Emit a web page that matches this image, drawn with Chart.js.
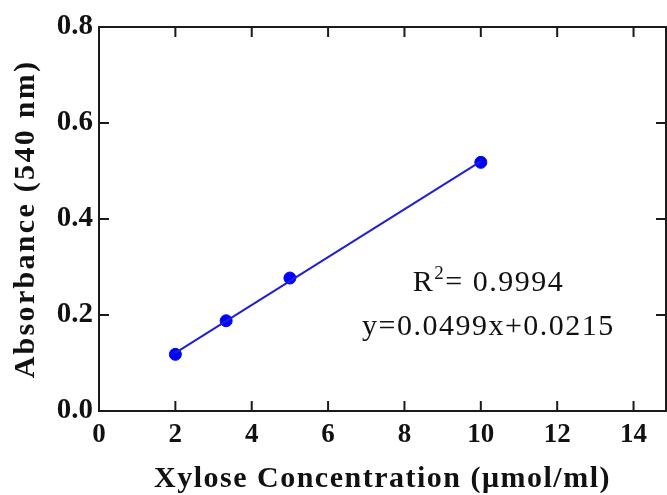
<!DOCTYPE html>
<html>
<head>
<meta charset="utf-8">
<script src="https://cdn.jsdelivr.net/npm/chart.js@4.4.1/dist/chart.umd.min.js"></script>
<style>
  html, body { margin: 0; padding: 0; background: #fff; overflow: hidden; }
  #wrap { width: 667px; height: 495px; }
</style>
</head>
<body>
<div id="wrap"><canvas id="chart" width="667" height="495"></canvas></div>
<script>
// Data
const concentration = [2, 3.33, 5, 10];
const absorbance = [0.118, 0.188, 0.277, 0.518];
const fitX = [2, 10];
const fitY = [0.121, 0.520];
const xTicks = [0, 2, 4, 6, 8, 10, 12, 14];
const yTicks = [0, 0.2, 0.4, 0.6, 0.8];
const xTitle = 'Xylose Concentration (\u03bcmol/ml)';
const yTitle = 'Absorbance (540 nm)';
const r2Text = '= 0.9994';
const eqText = 'y=0.0499x+0.0215';

const serif = "'Liberation Serif', 'Times New Roman', serif";

// Frame with inward ticks on all four sides, axis titles and the fit equation
const framePlugin = {
    id: 'frame',
    afterDraw(chart) {
        const ctx = chart.ctx;
        const a = chart.chartArea;
        const xs = chart.scales.x, ys = chart.scales.y;
        const len = 10;
        ctx.save();
        ctx.strokeStyle = '#1a1a1a';
        ctx.lineWidth = 2;
        ctx.strokeRect(a.left, a.top, a.right - a.left, a.bottom - a.top);
        ctx.beginPath();
        xTicks.forEach(v => {
            const px = xs.getPixelForValue(v);
            ctx.moveTo(px, a.bottom); ctx.lineTo(px, a.bottom - len);
            ctx.moveTo(px, a.top); ctx.lineTo(px, a.top + len);
        });
        yTicks.forEach(v => {
            const py = ys.getPixelForValue(v);
            ctx.moveTo(a.left, py); ctx.lineTo(a.left + len, py);
            ctx.moveTo(a.right, py); ctx.lineTo(a.right - len, py);
        });
        ctx.stroke();

        ctx.fillStyle = '#111';
        ctx.textBaseline = 'alphabetic';

        // axis titles
        ctx.textAlign = 'center';
        ctx.font = 'bold 30px ' + serif;
        ctx.letterSpacing = '1.5px';
        ctx.fillText(xTitle, (a.left + a.right) / 2, 487);

        ctx.save();
        ctx.translate(34, (a.top + a.bottom) / 2);
        ctx.rotate(-Math.PI / 2);
        ctx.letterSpacing = '2.3px';
        ctx.fillText(yTitle, 0, 0);
        ctx.restore();

        // equation text
        ctx.font = '30px ' + serif;
        ctx.letterSpacing = '1.5px';
        const cx = xs.getPixelForValue(10.2);
        const y1 = ys.getPixelForValue(0.25);
        const y2 = ys.getPixelForValue(0.158);
        const wR = ctx.measureText('R').width;
        const wRest = ctx.measureText(r2Text).width;
        ctx.font = '19px ' + serif;
        const wSup = ctx.measureText('2').width;
        const sx = cx - (wR + wSup + wRest) / 2;
        ctx.textAlign = 'left';
        ctx.font = '30px ' + serif;
        ctx.fillText('R', sx, y1);
        ctx.fillText(r2Text, sx + wR + wSup, y1);
        ctx.font = '19px ' + serif;
        ctx.fillText('2', sx + wR, y1 - 12);
        ctx.font = '30px ' + serif;
        ctx.textAlign = 'center';
        ctx.fillText(eqText, cx, y2);
        ctx.restore();
    }
};

const ctx = document.getElementById('chart').getContext('2d');
new Chart(ctx, {
    type: 'scatter',
    data: {
        datasets: [
            {
                label: 'Fit',
                type: 'line',
                data: fitX.map((x, i) => ({ x: x, y: fitY[i] })),
                borderColor: '#2020d0',
                borderWidth: 2,
                pointRadius: 0,
                fill: false
            },
            {
                label: 'Xylose',
                data: concentration.map((x, i) => ({ x: x, y: absorbance[i] })),
                backgroundColor: '#0000ff',
                borderColor: '#0000ff',
                pointRadius: 6,
                pointHoverRadius: 6
            }
        ]
    },
    options: {
        responsive: false,
        animation: false,
        events: [],
        layout: { autoPadding: false, padding: { top: 27, right: 1, left: 0, bottom: 0 } },
        plugins: {
            legend: { display: false },
            tooltip: { enabled: false }
        },
        scales: {
            x: {
                type: 'linear',
                min: 0,
                max: 14.85,
                afterBuildTicks: s => { s.ticks = xTicks.map(v => ({ value: v })); },
                afterFit: s => { s.height = 84; s.paddingRight = 0; s.paddingLeft = 0; },
                grid: { display: false, drawTicks: false },
                border: { display: false },
                ticks: {
                    color: '#111',
                    padding: 8,
                    font: { family: serif, size: 27, weight: 'bold' },
                    callback: v => String(v)
                }
            },
            y: {
                min: 0,
                max: 0.8,
                afterBuildTicks: s => { s.ticks = yTicks.map(v => ({ value: v })); },
                afterFit: s => { s.width = 99; },
                grid: { display: false, drawTicks: false },
                border: { display: false },
                ticks: {
                    color: '#111',
                    padding: 6,
                    font: { family: serif, size: 29, weight: 'bold' },
                    callback: v => v.toFixed(1)
                }
            }
        }
    },
    plugins: [framePlugin]
});
</script>
</body>
</html>
